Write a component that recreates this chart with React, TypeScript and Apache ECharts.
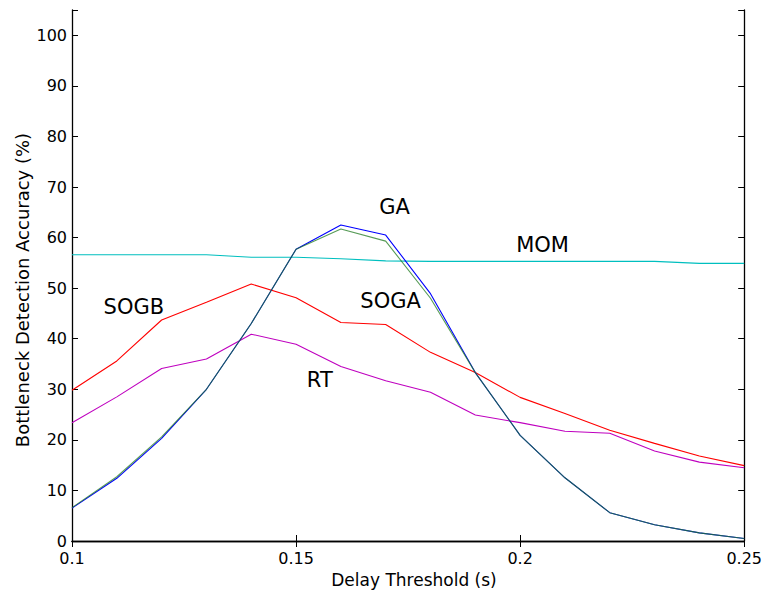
import React, { useEffect, useRef } from "react";
import * as echarts from "echarts";

const xValues = [0.1, 0.11, 0.12, 0.13, 0.14, 0.15, 0.16, 0.17, 0.18, 0.19, 0.2, 0.21, 0.22, 0.23, 0.24, 0.25];
const gaValues = [6.5, 12.4, 20.3, 30.0, 43.0, 57.7, 62.5, 60.5, 48.9, 33.3, 20.9, 12.5, 5.6, 3.2, 1.6, 0.5];
const sogaValues = [6.6, 12.7, 20.6, 30.0, 43.0, 57.7, 61.7, 59.3, 48.0, 33.3, 20.9, 12.5, 5.6, 3.2, 1.6, 0.5];
const momValues = [56.6, 56.6, 56.6, 56.6, 56.1, 56.1, 55.8, 55.4, 55.3, 55.3, 55.3, 55.3, 55.3, 55.3, 54.9, 54.9];
const sogbValues = [29.8, 35.6, 43.7, 47.2, 50.8, 48.1, 43.2, 42.8, 37.3, 33.3, 28.4, 25.2, 21.9, 19.3, 16.8, 14.9];
const rtValues = [23.4, 28.5, 34.1, 36.0, 40.9, 38.9, 34.5, 31.7, 29.4, 24.9, 23.4, 21.7, 21.3, 17.8, 15.6, 14.5];

const xTicks = [0.1, 0.15, 0.2, 0.25];
const yTicks = [0, 10, 20, 30, 40, 50, 60, 70, 80, 90, 100];

const labels = [
  { text: "GA", x: 0.172, y: 66.1 },
  { text: "MOM", x: 0.205, y: 58.5 },
  { text: "SOGB", x: 0.1138, y: 46.3 },
  { text: "SOGA", x: 0.1711, y: 47.5 },
  { text: "RT", x: 0.1553, y: 31.8 },
];

const xTitle = "Delay Threshold (s)";
const yTitle = "Bottleneck Detection Accuracy (%)";

const FONT = "DejaVu Sans";

export default function App() {
  const ref = useRef<HTMLDivElement>(null);
  useEffect(() => {
    if (!ref.current) return;
    const chart = echarts.init(ref.current, null, { renderer: "svg" });
    const pairs = (vals: number[]) => xValues.map((x, i) => [x, vals[i]]);
    const lineSeries = (name: string, vals: number[], color: string, opacity = 1) => ({
      name,
      type: "line",
      data: pairs(vals),
      symbol: "none",
      lineStyle: { color, width: 1.1, opacity },
      itemStyle: { color },
      z: 3,
    });
    const axisLine = { show: true, lineStyle: { color: "#000", width: 1.3 } };
    const tick = { show: true, inside: true, length: 6, lineStyle: { color: "#000" } };
    const titles = [
      {
        type: "text",
        x: 414,
        y: 580,
        style: { text: xTitle, fontFamily: FONT, fontSize: 17, fill: "#000", align: "center", verticalAlign: "middle" },
      },
      {
        type: "text",
        x: 22,
        y: 290,
        rotation: Math.PI / 2,
        style: { text: yTitle, fontFamily: FONT, fontSize: 18, fill: "#000", align: "center", verticalAlign: "middle" },
      },
    ];
    chart.setOption({
      animation: false,
      backgroundColor: "#fff",
      grid: { left: 72, top: 10, right: 20, bottom: 56, containLabel: false },
      graphic: titles,
      xAxis: [
        {
          type: "value",
          min: 0.1,
          max: 0.25,
          interval: 0.05,
          axisLine,
          axisTick: tick,
          axisLabel: {
            fontFamily: FONT,
            fontSize: 16,
            color: "#000",
            margin: 9,
            formatter: (v: number) => (xTicks.some((t) => Math.abs(t - v) < 1e-9) ? String(+v.toFixed(2)) : ""),
          },
          splitLine: { show: false },
        },
        {
          type: "value",
          position: "top",
          min: 0.1,
          max: 0.25,
          interval: 0.05,
          axisLine,
          axisTick: tick,
          axisLabel: { show: false },
          splitLine: { show: false },
        },
      ],
      yAxis: [
        {
          type: "value",
          min: 0,
          max: 105,
          interval: 10,
          axisLine,
          axisTick: tick,
          axisLabel: {
            fontFamily: FONT,
            fontSize: 16,
            color: "#000",
            margin: 5,
            formatter: (v: number) => (yTicks.includes(v) ? String(v) : ""),
          },
          splitLine: { show: false },
        },
        {
          type: "value",
          position: "right",
          min: 0,
          max: 105,
          interval: 10,
          axisLine,
          axisTick: tick,
          axisLabel: { show: false },
          splitLine: { show: false },
        },
      ],
      series: [
        lineSeries("MOM", momValues, "#00bfbf"),
        lineSeries("RT", rtValues, "#bf00bf"),
        lineSeries("SOGB", sogbValues, "#ff0000"),
        lineSeries("GA", gaValues, "#0000ff"),
        lineSeries("SOGA", sogaValues, "#1f7a1f", 0.75),
      ],
    });
    const labelGraphics = labels.map((l) => {
      const p = chart.convertToPixel({ xAxisIndex: 0, yAxisIndex: 0 }, [l.x, l.y]) as number[];
      return {
        type: "text",
        x: p[0],
        y: p[1],
        z: 10,
        style: { text: l.text, fontFamily: FONT, fontSize: 21, fill: "#000", align: "center", verticalAlign: "middle" },
      };
    });
    chart.setOption({ graphic: [...titles, ...labelGraphics] });
    return () => chart.dispose();
  }, []);
  return <div ref={ref} style={{ width: 765, height: 597, position: "absolute", left: 0, top: 0 }} />;
}
